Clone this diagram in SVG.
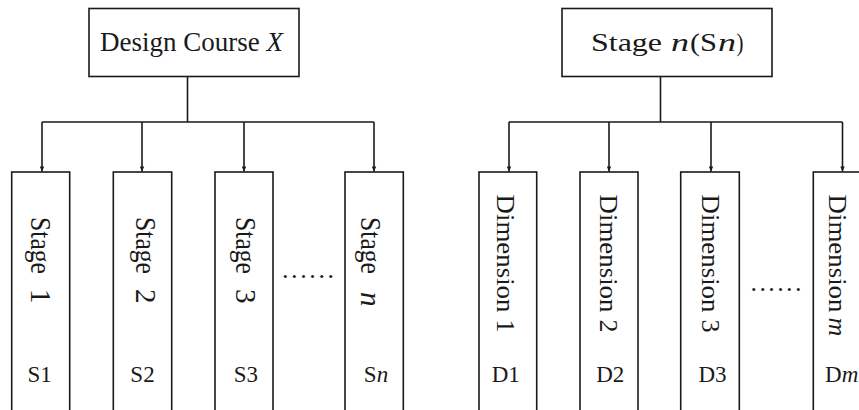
<svg xmlns="http://www.w3.org/2000/svg" width="859" height="410" viewBox="0 0 859 410">
<style>
.box{fill:#fff;stroke:#1a1a1a;stroke-width:1.6}
.ln{fill:none;stroke:#1a1a1a;stroke-width:1.6}
.t{font-family:"Liberation Serif","Times New Roman",serif;fill:#1a1a1a}
.it{font-style:italic}
.top{font-size:27px}
.rs{font-size:29px}
.rd{font-size:26px}
.lab{font-size:23px;text-anchor:middle}
</style>
<defs>
<marker id="ah" viewBox="0 0 10 10" refX="10" refY="5" markerWidth="6" markerHeight="5" markerUnits="userSpaceOnUse" orient="auto">
<path d="M0,0.5 L10,5 L0,9.5 z" fill="#1a1a1a"/>
</marker>
</defs>
<rect width="859" height="410" fill="#fff"/>

<g id="connectors">
<path class="ln" d="M187.5,76.5 V122 M42,122 H374 M660.5,76.5 V122 M509,122 H842.5"/>
<path class="ln" marker-end="url(#ah)" d="M42,122 V171.5"/>
<path class="ln" marker-end="url(#ah)" d="M142,122 V171.5"/>
<path class="ln" marker-end="url(#ah)" d="M244,122 V171.5"/>
<path class="ln" marker-end="url(#ah)" d="M374,122 V171.5"/>
<path class="ln" marker-end="url(#ah)" d="M509,122 V171.5"/>
<path class="ln" marker-end="url(#ah)" d="M609,122 V171.5"/>
<path class="ln" marker-end="url(#ah)" d="M711,122 V171.5"/>
<path class="ln" marker-end="url(#ah)" d="M842.5,122 V171.5"/>
</g>

<g id="design-course">
<rect class="box" x="89" y="8.5" width="210" height="68"/>
<text class="t top" x="100" y="51">Design Course <tspan class="it">X</tspan></text>
</g>

<g id="stage-n-top">
<rect class="box" x="562" y="8.5" width="210" height="68"/>
<text class="t" style="font-size:26px" y="51"><tspan x="591" textLength="71" lengthAdjust="spacingAndGlyphs">Stage</tspan><tspan class="it" x="671" textLength="18" lengthAdjust="spacingAndGlyphs">n</tspan><tspan x="690" textLength="10" lengthAdjust="spacingAndGlyphs">(</tspan><tspan x="700" textLength="17" lengthAdjust="spacingAndGlyphs">S</tspan><tspan class="it" x="718" textLength="18" lengthAdjust="spacingAndGlyphs">n</tspan><tspan x="736.5" textLength="7" lengthAdjust="spacingAndGlyphs">)</tspan></text>
</g>

<g id="stage1">
<rect class="box" x="11.7" y="172" width="58" height="250"/>
<text class="t rs" transform="translate(30.5,217) rotate(90)"><tspan x="0" textLength="57" lengthAdjust="spacingAndGlyphs">Stage</tspan><tspan x="72">1</tspan></text>
<text class="t lab" x="39.7" y="382">S1</text>
</g>

<g id="stage2">
<rect class="box" x="113.3" y="172" width="58.4" height="250"/>
<text class="t rs" transform="translate(135.5,217) rotate(90)"><tspan x="0" textLength="57" lengthAdjust="spacingAndGlyphs">Stage</tspan><tspan x="72">2</tspan></text>
<text class="t lab" x="142.5" y="382">S2</text>
</g>

<g id="stage3">
<rect class="box" x="215" y="172" width="58" height="250"/>
<text class="t rs" transform="translate(235.5,217) rotate(90)"><tspan x="0" textLength="57" lengthAdjust="spacingAndGlyphs">Stage</tspan><tspan x="72">3</tspan></text>
<text class="t lab" x="245.8" y="382">S3</text>
</g>

<g id="dots-left">
<text class="t" style="font-size:26px" x="282" y="278" textLength="52" lengthAdjust="spacing">......</text>
</g>

<g id="stage-n">
<rect class="box" x="345" y="172" width="58.3" height="250"/>
<text class="t rs" transform="translate(360.5,217) rotate(90)"><tspan x="0" textLength="57" lengthAdjust="spacingAndGlyphs">Stage</tspan><tspan class="it" x="75">n</tspan></text>
<text class="t lab" x="376" y="382">S<tspan class="it">n</tspan></text>
</g>

<g id="dimension1">
<rect class="box" x="479" y="172" width="57.7" height="250"/>
<text class="t rd" transform="translate(496.5,194.5) rotate(90)"><tspan x="0" textLength="118" lengthAdjust="spacingAndGlyphs">Dimension</tspan><tspan x="125">1</tspan></text>
<text class="t lab" x="505.8" y="382">D1</text>
</g>

<g id="dimension2">
<rect class="box" x="580" y="172" width="58" height="250"/>
<text class="t rd" transform="translate(600,194.5) rotate(90)"><tspan x="0" textLength="118" lengthAdjust="spacingAndGlyphs">Dimension</tspan><tspan x="125">2</tspan></text>
<text class="t lab" x="610.3" y="382">D2</text>
</g>

<g id="dimension3">
<rect class="box" x="680.7" y="172" width="58.6" height="250"/>
<text class="t rd" transform="translate(701.5,194.5) rotate(90)"><tspan x="0" textLength="118" lengthAdjust="spacingAndGlyphs">Dimension</tspan><tspan x="125">3</tspan></text>
<text class="t lab" x="712.5" y="382">D3</text>
</g>

<g id="dots-right">
<text class="t" style="font-size:26px" x="750.5" y="291" textLength="51" lengthAdjust="spacing">......</text>
</g>

<g id="dimension-m">
<rect class="box" x="813.3" y="172" width="58" height="250"/>
<text class="t rd" transform="translate(828.5,194.5) rotate(90)"><tspan x="0" textLength="118" lengthAdjust="spacingAndGlyphs">Dimension</tspan><tspan class="it" x="123">m</tspan></text>
<text class="t" style="font-size:23px" x="825" y="382">D<tspan class="it">m</tspan></text>
</g>
</svg>
